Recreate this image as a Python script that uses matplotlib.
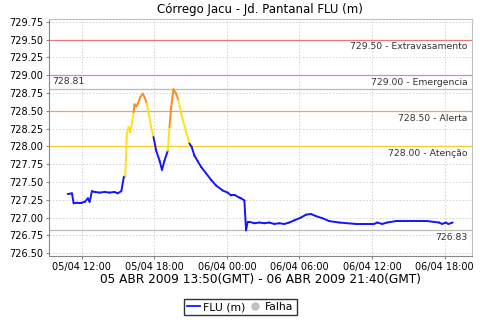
import pandas as pd
import numpy as np
import matplotlib
matplotlib.use("Agg")
import matplotlib.pyplot as plt
import matplotlib.dates as mdates
from matplotlib.lines import Line2D

# hours after 05/04/2009 00:00 (local time) and water level (m)
hours = [10.85, 11.20, 11.34, 11.67, 12.00, 12.25, 12.52, 12.66, 12.85, 13.07,
         13.49, 13.90, 14.31, 14.72, 14.97, 15.28, 15.49, 15.61, 15.74, 15.88,
         16.02, 16.18, 16.29, 16.37, 16.51, 16.65, 16.84, 17.06, 17.20, 17.39,
         17.55, 17.75, 17.94, 18.16, 18.44, 18.64, 18.85, 19.12, 19.26, 19.40,
         19.59, 19.81, 20.00, 20.23, 20.42, 20.64, 20.91, 21.10, 21.32, 21.60,
         21.88, 22.29, 22.70, 23.11, 23.66, 24.07, 24.35, 24.71, 25.04, 25.18,
         25.45, 25.59, 25.72, 25.86, 26.27, 26.69, 27.10, 27.51, 27.92, 28.34,
         28.75, 29.16, 29.57, 30.13, 30.54, 30.95, 31.36, 31.91, 32.46, 33.29,
         34.66, 36.17, 36.42, 36.84, 37.25, 37.97, 40.57, 41.54, 41.79, 42.09,
         42.31, 42.67]
level = [727.33, 727.34, 727.20, 727.21, 727.21, 727.22, 727.27, 727.22, 727.37, 727.36,
         727.35, 727.36, 727.35, 727.36, 727.34, 727.37, 727.57, 727.58, 728.18, 728.27,
         728.20, 728.34, 728.48, 728.59, 728.56, 728.60, 728.69, 728.74, 728.69, 728.60,
         728.46, 728.27, 728.13, 727.94, 727.80, 727.67, 727.80, 727.94, 728.27, 728.55,
         728.80, 728.74, 728.65, 728.46, 728.34, 728.20, 728.04, 727.99, 727.87, 727.79,
         727.71, 727.62, 727.53, 727.45, 727.38, 727.35, 727.31, 727.31, 727.28, 727.27,
         727.24, 726.82, 726.94, 726.94, 726.92, 726.93, 726.92, 726.93, 726.91, 726.92,
         726.91, 726.93, 726.96, 727.00, 727.04, 727.05, 727.02, 726.99, 726.95, 726.93,
         726.91, 726.91, 726.93, 726.91, 726.93, 726.95, 726.95, 726.93, 726.91, 726.93,
         726.91, 726.93]

# alert levels
limits = [729.50, 729.00, 728.50, 728.00]
limit_names = ["Extravasamento", "Emergencia", "Alerta", "Atenção"]
limit_colors = ["#e87878", "#e27ae2", "#f5a35a", "#f2d22a"]
max_level = 728.81
min_level = 726.83

start = pd.Timestamp("2009-04-05 00:00")
times = [start + pd.Timedelta(hours=h) for h in hours]
tnum = mdates.date2num(times)

plt.rcParams['font.family'] = ['DejaVu Sans']
fig = plt.figure(figsize=(4.8, 3.2), dpi=100)
ax = fig.add_axes([0.102, 0.2, 0.881, 0.741])

# grid
ax.grid(True, color='#d0d0d0', linestyle=(0, (2, 2)), linewidth=0.6)
ax.set_axisbelow(True)

# alert lines
for lv, name, col in zip(limits, limit_names, limit_colors):
    ax.axhline(lv, color=col, linewidth=0.9, zorder=2)
    ax.text(0.99, lv - 0.04, f"{lv:.2f} - {name}", transform=ax.get_yaxis_transform(),
            ha='right', va='top', fontsize=6.7, color='#333333')

# max / min lines
ax.axhline(max_level, color='#bbbbbb', linewidth=0.9, zorder=2)
ax.text(0.008, max_level + 0.04, f"{max_level:.2f}", transform=ax.get_yaxis_transform(),
        ha='left', va='bottom', fontsize=6.7, color='#333333')
ax.axhline(min_level, color='#bbbbbb', linewidth=0.9, zorder=2)
ax.text(0.99, min_level - 0.04, f"{min_level:.2f}", transform=ax.get_yaxis_transform(),
        ha='right', va='top', fontsize=6.7, color='#333333')

# level line, coloured by alert band of each segment's end point
for i in range(1, len(level)):
    v = level[i]
    if v >= 728.5:
        c = '#ff8c1a'
    elif v >= 728.0:
        c = '#ffe01a'
    else:
        c = '#1414ff'
    ax.plot(tnum[i - 1:i + 1], level[i - 1:i + 1], color=c, linewidth=1.4,
            solid_capstyle='round', zorder=3)

ax.set_xlim(mdates.date2num(start + pd.Timedelta(hours=9.3)),
            mdates.date2num(start + pd.Timedelta(hours=44.25)))
ax.set_ylim(726.46, 729.79)
ax.set_yticks(np.arange(726.5, 729.76, 0.25))
ax.yaxis.set_major_formatter(plt.FuncFormatter(lambda v, p: f"{v:.2f}"))
ax.xaxis.set_major_locator(mdates.HourLocator(byhour=[0, 6, 12, 18]))
ax.xaxis.set_major_formatter(mdates.DateFormatter("%d/%m %H:%M"))
ax.tick_params(labelsize=7, length=2, color='#888888', pad=2)

for s in ['top', 'right']:
    ax.spines[s].set_color('#c0c0c0')
for s in ['left', 'bottom']:
    ax.spines[s].set_color('#888888')

ax.set_title("Córrego Jacu - Jd. Pantanal FLU (m)", fontsize=8.5, pad=4)
ax.set_xlabel("05 ABR 2009 13:50(GMT) - 06 ABR 2009 21:40(GMT)", fontsize=8.7, labelpad=1)

handles = [Line2D([], [], color='#1414ff', linewidth=1.3),
           Line2D([], [], color='#c0c0c0', marker='o', linestyle='None', markersize=5)]
fig.legend(handles, ["FLU (m)", "Falha"], loc='center', bbox_to_anchor=(0.5, 0.04),
           ncol=2, fontsize=7.8, frameon=True, fancybox=False, edgecolor='black',
           handlelength=1.2, handletextpad=0.3, columnspacing=0.3, borderpad=0.3,
           borderaxespad=0)

fig.savefig("out.png", dpi=100)
